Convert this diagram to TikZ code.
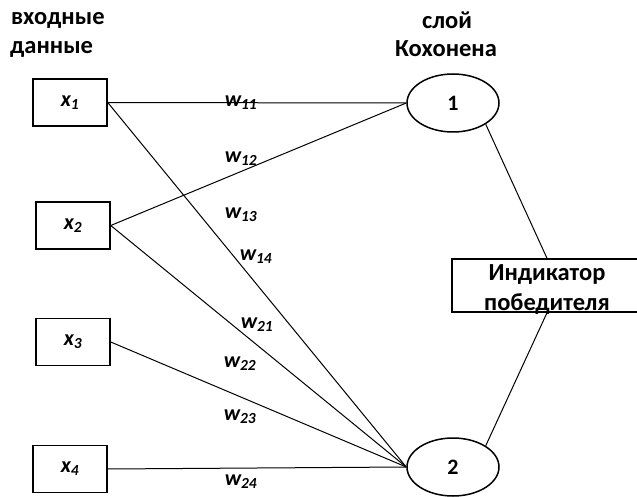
\documentclass[tikz,border=0pt]{standalone}
\usepackage{fontspec}
\setmainfont{Carlito}
\usetikzlibrary{shapes.geometric}

\tikzset{
  inbox/.style={draw, line width=1.5pt, minimum width=74pt, minimum height=47pt, inner sep=0pt},
  neuron/.style={draw, ellipse, line width=1.5pt, minimum width=92pt, minimum height=58pt, inner sep=0pt},
  wlabel/.style={font=\fontsize{22}{22}\selectfont\bfseries\itshape, inner sep=0pt},
  title/.style={font=\fontsize{24.5}{30}\selectfont\bfseries, inner sep=0pt},
  link/.style={line width=1pt}
}
\newcommand{\xin}[1]{\raisebox{-4pt}{\fontsize{22}{22}\selectfont\bfseries\itshape x\textsubscript{#1}}}

\begin{document}
\begin{tikzpicture}[x=1pt, y=-1pt]
  \useasboundingbox (0,0) rectangle (637,497);

  % titles
  \node[title, anchor=west] (in1) at (11,20) {входные};
  \node[title, anchor=west] (in2) at (10,49) {данные};
  \node[title] (ko1) at (447,20) {слой};
  \node[title] (ko2) at (446,49) {Кохонена};

  % input boxes
  \node[inbox] (x1) at (70,102.5) {\xin{1}};
  \node[inbox] (x2) at (73,225.5) {\xin{2}};
  \node[inbox] (x3) at (73,342) {\xin{3}};
  \node[inbox] (x4) at (70,469) {\xin{4}};

  % Kohonen neurons
  \node[neuron] (k1) at (453,103) {\fontsize{22}{22}\selectfont\bfseries 1};
  \node[neuron] (k2) at (453,467) {\fontsize{22}{22}\selectfont\bfseries 2};

  % winner indicator
  \node[draw, line width=1.5pt, minimum width=190pt, minimum height=53pt] (ind) at (547,285.5) {};
  \node[title, align=center] (indt) at (547,290) {Индикатор\\победителя};

  % weights
  \draw[link] (x1.east) -- (k1.west);
  \draw[link] (x1.east) -- (k2.west);
  \draw[link] (x2.east) -- (k1.west);
  \draw[link] (x2.east) -- (k2.west);
  \draw[link] (x3.east) -- (k2.west);
  \draw[link] (x4.east) -- (k2.west);
  \draw[link] (k1.-33) -- (ind.north);
  \draw[link] (k2.33) -- (ind.south);

  \node[wlabel] (w11) at (241,103) {w\textsubscript{11}};
  \node[wlabel] (w12) at (241,159) {w\textsubscript{12}};
  \node[wlabel] (w13) at (241,215) {w\textsubscript{13}};
  \node[wlabel] (w14) at (256,257) {w\textsubscript{14}};
  \node[wlabel] (w21) at (257,325) {w\textsubscript{21}};
  \node[wlabel] (w22) at (240,364) {w\textsubscript{22}};
  \node[wlabel] (w23) at (240,417) {w\textsubscript{23}};
  \node[wlabel] (w24) at (241,482) {w\textsubscript{24}};
\end{tikzpicture}
\end{document}
